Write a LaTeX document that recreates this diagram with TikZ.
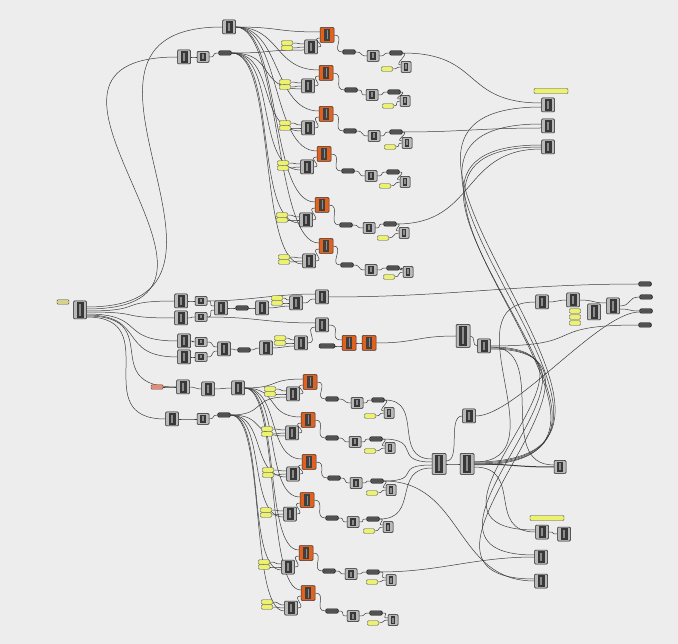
\documentclass[tikz,border=0pt]{standalone}
\usetikzlibrary{calc}
\definecolor{bgc}{RGB}{237,237,237}
\definecolor{ghorange}{RGB}{224,98,30}
\definecolor{ghyellow}{RGB}{236,242,110}
\definecolor{ghsalmon}{RGB}{228,140,118}
\definecolor{ghkhaki}{RGB}{214,210,140}
\definecolor{wirec}{RGB}{60,60,60}
\pgfdeclarelayer{back}
\pgfdeclarelayer{wires}
\pgfsetlayers{back,wires,main}
\newcommand\GW[3][20]{\draw[wire] (#2) .. controls +(#1,0) and +(-#1,0) .. (#3);}
\tikzset{
  wire/.style={draw=wirec, line width=0.5pt},
  comp/.style={draw=black!90, fill=gray!55, minimum width=13pt, minimum height=14pt, inner sep=0pt, rounded corners=1pt, line width=0.5pt,
    path picture={\fill[black!78,sharp corners] ([xshift=3pt,yshift=-1.2pt]path picture bounding box.north west) rectangle ([xshift=-3pt,yshift=1.2pt]path picture bounding box.south east);
      \fill[black!45,sharp corners] ([xshift=-0.6pt,yshift=-3pt]path picture bounding box.north) rectangle ([xshift=0.6pt,yshift=3pt]path picture bounding box.south);}},
  scomp/.style={comp, minimum width=12pt, minimum height=11pt},
  qcomp/.style={comp, minimum width=10pt, minimum height=11pt},
  tcomp/.style={comp, minimum width=14pt, minimum height=21pt},
  ocomp/.style={draw=black!80, fill=ghorange, minimum width=14pt, minimum height=15pt, inner sep=0pt, rounded corners=1pt, line width=0.5pt,
    path picture={\fill[black!75,sharp corners] ([xshift=4pt,yshift=-1.2pt]path picture bounding box.north west) rectangle ([xshift=-4pt,yshift=1.2pt]path picture bounding box.south east);
      \fill[black!45,sharp corners] ([xshift=-0.5pt,yshift=-3pt]path picture bounding box.north) rectangle ([xshift=0.5pt,yshift=3pt]path picture bounding box.south);}},
  dbar/.style={draw=black!90, fill=black!68, minimum width=13pt, minimum height=4.5pt, inner sep=0pt, rounded corners=1.5pt, line width=0.4pt},
  ypan/.style={draw=black!70, fill=ghyellow, minimum width=11pt, minimum height=4.5pt, inner sep=0pt, rounded corners=1pt, line width=0.4pt},
  longy/.style={ypan, minimum width=34pt, minimum height=5pt}
}
\begin{document}
\begin{tikzpicture}[x=1pt,y=-1pt]
\begin{pgfonlayer}{back}
\fill[bgc] (0,0) rectangle (678,644);
\end{pgfonlayer}
\useasboundingbox (0,0) rectangle (678,644);

% ---------- top section ----------
\node[comp] (A1) at (229,27) {};
\node[comp] (B1) at (184,57) {};
\node[scomp] (B2) at (203,57) {};
\node[dbar] (B3) at (225,53) {};
\foreach \i/\ox/\oy/\yx/\yy/\gx/\gy/\kx/\ky/\hx/\hy/\lx/\ly/\px/\py/\qx/\qy in {
  1/327/35/287/43/311/47/349/52/373/56/396/53/387/69/406/67,
  2/326/73/285/82/308/86/351/90/372/95/394/92/388/106/405/101,
  3/326/114/285/123/308/128/350/131/374/136/396/132/390/147/407/143,
  4/324/154/283/163/307/167/348/171/371/176/393/172/385/186/405/182,
  5/322/205/282/215/306/220/346/225/369/228/390/224/383/238/404/233,
  6/326/246/284/257/309/261/347/265/371/270/393/268/389/277/408/272}
{
  \node[ocomp] (tO\i) at (\ox,\oy) {};
  \node[ypan] (tYa\i) at (\yx,\yy) {};
  \node[ypan] (tYb\i) at (\yx,\yy+5) {};
  \node[comp] (tG\i) at (\gx,\gy) {};
  \node[dbar] (tK\i) at (\kx,\ky) {};
  \node[scomp] (tH\i) at (\hx,\hy) {};
  \node[dbar] (tL\i) at (\lx,\ly) {};
  \node[ypan] (tP\i) at (\px,\py) {};
  \node[qcomp] (tQ\i) at (\qx,\qy) {};
}
\node[longy] (RY) at (551,91) {};
\node[comp] (R1) at (548,105) {};
\node[comp] (R2) at (548,126) {};
\node[comp] (R3) at (548,147) {};

% ---------- middle section ----------
\node[ypan, fill=ghkhaki, minimum width=12pt] (YM) at (63,302) {};
\node[comp, minimum height=18pt] (M) at (80,310) {};
\node[comp] (m1a) at (181,301) {};
\node[comp] (m1b) at (181,318) {};
\node[scomp, minimum height=9pt] (m2a) at (201,301) {};
\node[scomp, minimum height=9pt] (m2b) at (201,317) {};
\node[comp] (m3) at (221,308) {};
\node[dbar] (mk) at (242,308) {};
\node[comp] (m4) at (262,308) {};
\node[ypan] (myA) at (277,298) {};
\node[ypan] (myB) at (277,303) {};
\node[comp] (m5) at (296,303) {};
\node[comp] (m6) at (322,297) {};
\node[comp] (m7) at (322,325) {};
\node[comp] (n1a) at (184,341) {};
\node[comp] (n1b) at (184,357) {};
\node[scomp, minimum height=9pt] (n2a) at (201,342) {};
\node[scomp, minimum height=9pt] (n2b) at (201,357) {};
\node[comp] (n3) at (224,349) {};
\node[dbar] (nk) at (244,350) {};
\node[comp] (n4) at (266,348) {};
\node[ypan] (nyA) at (280,338) {};
\node[ypan] (nyB) at (280,343) {};
\node[comp] (n5) at (301,343) {};
\node[dbar, minimum width=16pt] (nbar) at (327,346) {};
\node[ocomp] (o1) at (349,343) {};
\node[ocomp] (o2) at (369,343) {};
\node[tcomp, minimum height=23pt] (M1) at (463,336) {};
\node[comp] (M2) at (484,346) {};
\node[comp] (r1) at (542,302) {};
\node[comp] (r2) at (573,300) {};
\node[ypan] (ry1) at (575,311) {};
\node[ypan] (ry2) at (575,317) {};
\node[ypan] (ry3) at (575,323) {};
\node[comp, minimum height=16pt] (r4) at (594,312) {};
\node[comp, minimum height=16pt] (r5) at (613,306) {};
\node[dbar] (rb1) at (645,284) {};
\node[dbar] (rb2) at (646,297) {};
\node[dbar] (rb3) at (646,311) {};
\node[dbar] (rb4) at (645,325) {};

% ---------- lower section ----------
\node[ypan, fill=ghsalmon, minimum width=12pt] (sal) at (157,387) {};
\node[comp] (l1) at (183,387) {};
\node[comp] (l2) at (208,389) {};
\node[comp] (l3) at (238,388) {};
\node[comp] (lo1) at (172,419) {};
\node[scomp] (lo2) at (203,419) {};
\node[dbar] (lo3) at (224,415) {};
\foreach \i/\ox/\oy/\yx/\yy/\gx/\gy/\kx/\ky/\hx/\hy/\lx/\ly/\px/\py/\qx/\qy in {
  1/310/382/270/389/293/394/332/399/357/403/378/400/370/416/389/413,
  2/308/420/267/429/292/433/332/438/355/442/376/439/370/451/390/448,
  3/309/462/268/470/293/474/334/478/356/483/377/481/372/493/391/490,
  4/307/500/266/510/290/514/332/518/353/522/373/519/369/531/388/527,
  5/306/553/264/562/288/567/329/571/351/574/373/572/372/582/391/580,
  6/308/593/267/602/291/608/332/611/353/616/376/613/373/623/393/620}
{
  \node[ocomp] (bO\i) at (\ox,\oy) {};
  \node[ypan] (bYa\i) at (\yx,\yy) {};
  \node[ypan] (bYb\i) at (\yx,\yy+5) {};
  \node[comp] (bG\i) at (\gx,\gy) {};
  \node[dbar] (bK\i) at (\kx,\ky) {};
  \node[scomp] (bH\i) at (\hx,\hy) {};
  \node[dbar] (bL\i) at (\lx,\ly) {};
  \node[ypan] (bP\i) at (\px,\py) {};
  \node[qcomp] (bQ\i) at (\qx,\qy) {};
}
\node[comp] (U) at (469,416) {};
\node[tcomp] (T1) at (439,464) {};
\node[tcomp] (T2) at (467,464) {};
\node[comp, minimum width=12pt, minimum height=13pt] (S1) at (560,467) {};
\node[longy] (Y2) at (547,518) {};
\node[comp] (V1) at (542,532) {};
\node[comp] (V2) at (564,534) {};
\node[comp] (V3) at (541,557) {};
\node[comp] (V4) at (541,581) {};

\begin{pgfonlayer}{wires}
% top
\GW[200]{[yshift=3pt]M.east}{A1.west}
\GW[200]{[yshift=1pt]M.east}{B1.west}
\GW[8]{B1.east}{B2.west}
\GW[8]{B2.east}{B3.west}
\foreach \i in {1,...,6}{
  \GW[45]{A1.east}{[yshift=3pt]tO\i.west}
  \GW[45]{B3.east}{[yshift=-3pt]tG\i.west}
  \GW[8]{tYa\i.east}{[yshift=3pt]tG\i.west}
  \GW[8]{tYb\i.east}{tG\i.west}
  \GW[10]{tG\i.east}{[yshift=-3pt]tO\i.west}
  \GW[12]{tO\i.east}{tK\i.west}
  \GW[8]{tK\i.east}{tH\i.west}
  \GW[8]{tH\i.east}{tL\i.west}
  \GW[6]{tP\i.east}{tQ\i.west}
  \GW[8]{tL\i.east}{[yshift=2pt]tQ\i.west}
  \GW[35]{l3.east}{[yshift=3pt]bO\i.west}
  \GW[35]{lo3.east}{[yshift=-3pt]bG\i.west}
  \GW[8]{bYa\i.east}{[yshift=3pt]bG\i.west}
  \GW[8]{bYb\i.east}{bG\i.west}
  \GW[10]{bG\i.east}{[yshift=-3pt]bO\i.west}
  \GW[12]{bO\i.east}{bK\i.west}
  \GW[8]{bK\i.east}{bH\i.west}
  \GW[8]{bH\i.east}{bL\i.west}
  \GW[6]{bP\i.east}{bQ\i.west}
  \GW[8]{bL\i.east}{[yshift=2pt]bQ\i.west}
}
\GW[80]{tL1.east}{[yshift=2pt]R1.west}
\GW[60]{tL3.east}{[yshift=-2pt]R2.west}
\GW[80]{tL5.east}{[yshift=-2pt]R3.west}
\GW[250]{[yshift=2pt]T2.east}{[yshift=-2pt]R1.west}
\GW[245]{[yshift=1pt]T2.east}{[yshift=2pt]R2.west}
\GW[240]{T2.east}{[yshift=2pt]R3.west}
\GW[235]{[yshift=-1pt]T2.east}{R3.west}
% middle
\GW[60]{[yshift=-1pt]M.east}{m1a.west}
\GW[60]{[yshift=-2pt]M.east}{m1b.west}
\GW[60]{[yshift=-4pt]M.east}{n1a.west}
\GW[60]{[yshift=-5pt]M.east}{n1b.west}
\GW[80]{[yshift=-6pt]M.east}{l1.west}
\GW[80]{[yshift=-7pt]M.east}{lo1.west}
\GW[6]{m1a.east}{m2a.west}
\GW[6]{m1b.east}{m2b.west}
\GW[8]{m2a.east}{[yshift=2pt]m3.west}
\GW[8]{m2b.east}{[yshift=-2pt]m3.west}
\GW[6]{m3.east}{mk.west}
\GW[6]{mk.east}{m4.west}
\GW[8]{m4.east}{[yshift=-3pt]m5.west}
\GW[6]{myA.east}{[yshift=3pt]m5.west}
\GW[6]{myB.east}{m5.west}
\GW[10]{m5.east}{[yshift=-2pt]m6.west}
\GW[40]{m2a.east}{[yshift=3pt]m6.west}
\GW[50]{m2b.east}{[yshift=2pt]m7.west}
\GW[12]{n5.east}{[yshift=-2pt]m7.west}
\GW[120]{m6.east}{rb1.west}
\GW[15]{m7.east}{[yshift=3pt]o1.west}
\GW[6]{n1a.east}{n2a.west}
\GW[6]{n1b.east}{n2b.west}
\GW[8]{n2a.east}{[yshift=2pt]n3.west}
\GW[8]{n2b.east}{[yshift=-2pt]n3.west}
\GW[6]{n3.east}{nk.west}
\GW[6]{nk.east}{n4.west}
\GW[8]{n4.east}{[yshift=-3pt]n5.west}
\GW[6]{nyA.east}{[yshift=3pt]n5.west}
\GW[6]{nyB.east}{n5.west}
\GW[6]{nbar.east}{[yshift=-3pt]o1.west}
\GW[6]{o1.east}{o2.west}
\GW[40]{o2.east}{M1.west}
\GW[6]{M1.east}{M2.west}
\GW[90]{[yshift=2pt]T2.east}{r1.west}
\GW[8]{r1.east}{r2.west}
\GW[15]{r2.east}{[yshift=3pt]r5.west}
\GW[12]{r5.east}{rb2.west}
\GW[12]{[yshift=-3pt]r5.east}{rb3.west}
\GW[100]{M2.east}{rb4.west}
\GW[40]{U.east}{[yshift=-1pt]rb3.west}
% lower
\GW[5]{sal.east}{l1.west}
\GW[6]{l1.east}{l2.west}
\GW[6]{l2.east}{l3.west}
\GW[6]{lo1.east}{lo2.west}
\GW[6]{lo2.east}{lo3.west}
\GW[40]{bL1.east}{[yshift=5pt]T1.west}
\GW[40]{bL2.east}{[yshift=2pt]T1.west}
\GW[40]{bL3.east}{[yshift=-1pt]T1.west}
\GW[40]{bL4.east}{[yshift=-4pt]T1.west}
\GW[8]{T1.east}{T2.west}
\GW[15]{[yshift=3pt]T1.east}{U.west}
\draw[wire, line width=1pt] (T2.east) .. controls +(40,0) and +(-40,0) .. (S1.west);
\GW[60]{[yshift=-1pt]M2.east}{[yshift=2pt]S1.west}
\GW[150]{[yshift=-1pt]M2.east}{[yshift=2pt]V1.west}
\GW[160]{[yshift=-2pt]M2.east}{[yshift=2pt]V3.west}
\GW[170]{[yshift=-3pt]M2.east}{[yshift=2pt]V4.west}
\GW[50]{[yshift=-3pt]T2.east}{V1.west}
\GW[80]{bL3.east}{V4.west}
\GW[60]{bL5.east}{V3.west}
\GW[8]{V1.east}{V2.west}
\end{pgfonlayer}
\end{tikzpicture}
\end{document}
